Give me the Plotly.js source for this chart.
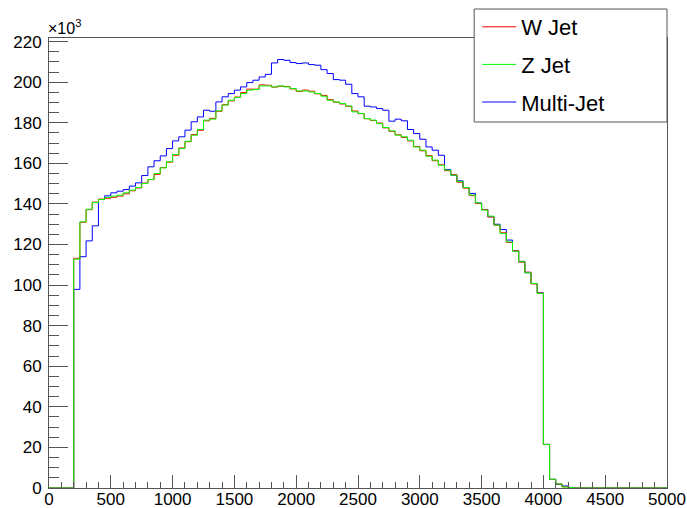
<!DOCTYPE html>
<html>
<head>
<meta charset="utf-8">
<script src="https://cdn.plot.ly/plotly-3.0.1.min.js"></script>
<style>html,body{margin:0;padding:0;background:#fff;}#chart{width:687px;height:508px;}</style>
</head>
<body>
<div id="chart"></div>
<script>
// Histogram: 100 bins of width 50 from 0 to 5000, contents in units of 10^3
const binWidth = 50;
const nBins = 100;

const wJet = [
  0, 0, 0, 0, 113.2, 131.0, 137.2, 140.9, 142.4, 142.8,
  143.3, 143.9, 145.0, 146.5, 147.9, 150.3, 152.0, 154.6, 157.9, 160.6,
  164.0, 167.6, 170.7, 174.2, 176.3, 181.0, 182.2, 185.7, 188.9, 190.8,
  192.7, 194.9, 196.6, 196.6, 198.7, 198.5, 197.6, 198.0, 197.9, 196.7,
  195.5, 196.1, 195.6, 194.3, 193.5, 191.4, 190.2, 189.3, 188.1, 185.8,
  184.5, 182.0, 181.1, 179.9, 177.5, 175.8, 174.1, 172.8, 171.1, 168.3,
  166.2, 163.8, 161.3, 159.3, 156.4, 154.5, 150.7, 147.8, 144.1, 140.2,
  137.2, 133.6, 129.5, 125.8, 121.0, 116.9, 111.3, 106.4, 100.6, 96.1,
  21.4, 4.2, 2.0, 0.6, 0.2, 0, 0, 0, 0, 0,
  0, 0, 0, 0, 0, 0, 0, 0, 0, 0
];

const zJet = [
  0, 0, 0, 0, 112.8, 131.2, 137.4, 140.7, 142.2, 143.2,
  143.8, 144.3, 145.5, 146.8, 148.1, 150.1, 152.1, 155.0, 157.8, 160.8,
  164.4, 167.3, 170.9, 173.9, 176.7, 181.3, 181.8, 185.9, 188.7, 191.1,
  192.5, 194.4, 196.1, 196.4, 198.2, 198.2, 197.7, 198.2, 197.7, 196.9,
  195.7, 195.7, 195.2, 194.4, 193.1, 191.1, 190.3, 189.5, 188.3, 185.4,
  184.6, 182.1, 181.3, 179.6, 177.7, 176.0, 173.9, 173.1, 171.4, 168.1,
  166.5, 163.5, 161.6, 159.1, 156.7, 154.2, 151.0, 148.1, 144.4, 140.5,
  137.0, 134.0, 129.6, 125.5, 121.3, 116.7, 111.5, 106.1, 100.8, 95.9,
  21.5, 4.3, 2.0, 0.5, 0.2, 0, 0, 0, 0, 0,
  0, 0, 0, 0, 0, 0, 0, 0, 0, 0
];

const multiJet = [
  0, 0, 0, 0, 97.9, 114.0, 121.8, 129.2, 142.2, 144.0,
  145.5, 146.3, 147.1, 148.8, 150.4, 154.0, 158.3, 161.3, 163.7, 167.3,
  171.1, 173.1, 176.4, 180.5, 182.9, 186.2, 185.7, 190.3, 192.8, 194.4,
  196.1, 197.7, 199.8, 201.0, 202.6, 203.9, 209.5, 211.2, 210.8, 209.7,
  209.2, 209.5, 208.7, 208.4, 206.2, 204.3, 201.3, 201.0, 199.0, 194.4,
  192.8, 188.2, 187.8, 187.0, 186.2, 180.8, 181.8, 181.0, 176.7, 174.7,
  171.9, 168.1, 166.5, 164.0, 157.0, 154.2, 151.4, 148.1, 145.2, 140.5,
  137.3, 133.7, 130.0, 127.4, 122.2, 116.9, 111.7, 106.1, 100.8, 96.2,
  21.5, 4.3, 1.8, 1.0, 0.3, 0, 0, 0, 0, 0,
  0, 0, 0, 0, 0, 0, 0, 0, 0, 0
];

const seriesNames = ["W Jet", "Z Jet", "Multi-Jet"];
const xTickVals = [0, 500, 1000, 1500, 2000, 2500, 3000, 3500, 4000, 4500, 5000];
const xTickText = ["0", "500", "1000", "1500", "2000", "2500", "3000", "3500", "4000", "4500", "5000"];
const yTickVals = [0, 20, 40, 60, 80, 100, 120, 140, 160, 180, 200, 220];
const yTickText = ["0", "20", "40", "60", "80", "100", "120", "140", "160", "180", "200", "220"];

const edges = [];
for (let i = 0; i <= nBins; i++) edges.push(i * binWidth);

function stepTrace(vals, name, color, rank, group) {
  return {
    type: "scatter",
    mode: "lines",
    x: edges,
    y: vals.concat([vals[vals.length - 1]]),
    name: name,
    legendrank: rank,
    legendgroup: group,
    line: { shape: "hv", color: color, width: 1 },
    hoverinfo: "skip"
  };
}

const data = [
  stepTrace(multiJet, seriesNames[2], "#0000ff", 3, "c"),
  stepTrace(wJet, seriesNames[0], "#ff0000", 1, "a"),
  stepTrace(zJet, seriesNames[1], "#00ff00", 2, "b")
];

const fontFamily = "Liberation Sans, Arial, sans-serif";
const tickFont = { family: fontFamily, size: 17, color: "#000" };
const frameColor = "#555";

const layout = {
  width: 687,
  height: 508,
  margin: { l: 49, r: 20, t: 38, b: 20, pad: 0, autoexpand: false },
  paper_bgcolor: "#fff",
  plot_bgcolor: "#fff",
  showlegend: true,
  xaxis: {
    range: [0, 5000],
    automargin: false,
    showgrid: false,
    zeroline: false,
    showline: true,
    mirror: true,
    linecolor: frameColor,
    linewidth: 1,
    ticks: "inside",
    ticklen: 13,
    tickwidth: 1,
    tickcolor: frameColor,
    tickmode: "array",
    tickvals: xTickVals,
    ticktext: xTickText,
    tickfont: tickFont,
    ticklabelstandoff: -4,
    minor: { dtick: 100, tick0: 0, ticks: "inside", ticklen: 6.5, tickcolor: frameColor, showgrid: false }
  },
  yaxis: {
    range: [0, 221.8],
    automargin: false,
    showgrid: false,
    zeroline: false,
    showline: true,
    mirror: true,
    linecolor: frameColor,
    linewidth: 1,
    ticks: "inside",
    ticklen: 19,
    tickwidth: 1,
    tickcolor: frameColor,
    tickmode: "array",
    tickvals: yTickVals,
    ticktext: yTickText,
    tickfont: tickFont,
    ticklabelstandoff: 3,
    minor: { dtick: 5, tick0: 0, ticks: "inside", ticklen: 9.5, tickcolor: frameColor, showgrid: false }
  },
  legend: {
    x: 0.6929,
    y: 1.0711,
    xanchor: "left",
    yanchor: "top",
    bgcolor: "rgba(0,0,0,0)",
    borderwidth: 0,
    font: { family: fontFamily, size: 22, color: "#000" },
    traceorder: "grouped",
    tracegroupgap: 6,
    itemwidth: 34
  },
  shapes: [
    {
      type: "rect", xref: "paper", yref: "paper",
      x0: 0.688, x1: 1.0, y0: 0.8133, y1: 1.0644,
      line: { color: frameColor, width: 1 },
      fillcolor: "#fff",
      layer: "above"
    }
  ],
  annotations: [
    {
      xref: "paper", yref: "paper", x: 0, y: 1,
      xanchor: "left", yanchor: "bottom",
      showarrow: false,
      text: "×10<sup>3</sup>",
      font: { family: fontFamily, size: 16, color: "#000" },
      xshift: -3, yshift: -1
    }
  ]
};

Plotly.newPlot("chart", data, layout, { displayModeBar: false, staticPlot: true });
</script>
</body>
</html>
